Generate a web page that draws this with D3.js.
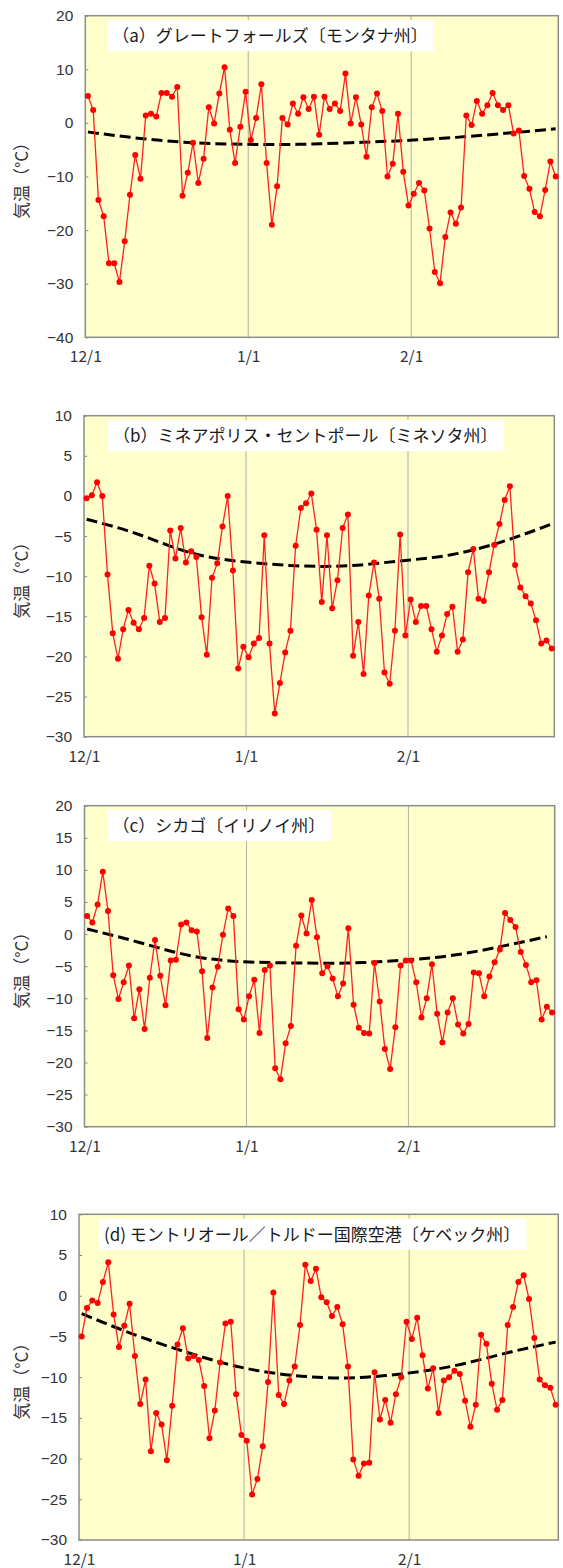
<!DOCTYPE html>
<html>
<head>
<meta charset="utf-8">
<script src="https://cdn.jsdelivr.net/npm/d3@7"></script>
<style>
  body { margin: 0; background: #fff; }
  text { font-family: "Noto Sans CJK JP", "Noto Sans", sans-serif; }
</style>
</head>
<body>
<svg id="chart" width="563" height="1568"></svg>
<script>
// Daily mean temperatures, Dec 1 .. Feb 28 (90 days)

const titles = [
    "（a）グレートフォールズ〔モンタナ州〕",
    "（b）ミネアポリス・セントポール〔ミネソタ州〕",
    "（c）シカゴ〔イリノイ州〕",
    "(d) モントリオール／トルドー国際空港〔ケベック州〕"
];

const dateLabels = ["12/1", "1/1", "2/1"];
const dateTickDays = [0, 31, 62];

const tempA = [5.0, 2.4, -14.4, -17.4, -26.2, -26.2, -29.7, -22.1, -13.4, -6.0,
    -10.4, 1.4, 1.7, 1.2, 5.6, 5.6, 4.9, 6.7, -13.6, -9.3,
    -3.7, -11.2, -6.7, 2.9, -0.1, 5.5, 10.4, -1.3, -7.5, -0.7,
    5.8, -3.2, 0.9, 7.2, -7.5, -19.0, -11.8, 0.9, -0.3, 3.6,
    1.7, 4.8, 2.6, 4.9, -2.2, 4.9, 2.6, 3.6, 2.2, 9.2,
    -0.1, 4.8, -0.3, -6.3, 2.9, 5.5, 2.2, -10.0, -7.6, 1.7,
    -9.1, -15.4, -13.2, -11.2, -12.6, -19.7, -27.8, -29.9, -21.3, -16.7,
    -18.8, -15.8, 1.4, -0.4, 4.1, 1.7, 3.3, 5.6, 3.3, 2.4,
    3.3, -2.0, -1.4, -9.9, -12.3, -16.6, -17.4, -12.5, -7.2, -10.0];

const tempB = [-0.3, 0.1, 1.7, 0.0, -9.8, -17.1, -20.3, -16.6, -14.2, -15.8,
    -16.6, -15.2, -8.7, -10.9, -15.7, -15.2, -4.3, -7.8, -4.0, -8.3,
    -6.9, -7.6, -15.1, -19.8, -10.2, -8.4, -3.8, 0.0, -9.3, -21.5,
    -18.8, -20.1, -18.4, -17.7, -4.9, -18.4, -27.1, -23.3, -19.5, -16.8,
    -6.2, -1.5, -0.9, 0.3, -4.2, -13.2, -4.9, -14.0, -10.5, -4.0,
    -2.3, -19.9, -15.7, -22.2, -12.4, -8.3, -12.8, -22.0, -23.4, -16.8,
    -4.8, -17.4, -12.9, -15.7, -13.7, -13.7, -16.6, -19.4, -17.4, -14.7,
    -13.8, -19.4, -17.9, -9.5, -6.6, -12.8, -13.1, -9.5, -6.1, -3.5,
    -0.5, 1.2, -8.6, -11.4, -12.5, -13.4, -15.5, -18.4, -18.0, -19.0];

const tempC = [2.8, 1.8, 4.6, 9.7, 3.6, -6.4, -10.1, -7.5, -4.9, -13.1,
    -8.6, -14.8, -6.8, -0.9, -6.5, -11.1, -4.1, -4.0, 1.5, 1.8,
    0.6, 0.4, -5.8, -16.2, -8.3, -5.1, -0.1, 4.0, 2.8, -11.7,
    -13.3, -9.7, -7.1, -15.4, -5.6, -4.9, -20.9, -22.6, -17.0, -14.3,
    -1.8, 2.9, 0.1, 5.3, -0.5, -6.1, -5.0, -6.9, -9.7, -7.7,
    0.9, -11.0, -14.6, -15.4, -15.5, -4.5, -10.5, -17.9, -21.0, -14.5,
    -4.9, -4.1, -4.1, -7.5, -13.0, -10.0, -4.7, -12.4, -16.9, -12.2,
    -10.0, -14.1, -15.5, -14.0, -6.0, -6.1, -9.7, -6.6, -4.4, -2.4,
    3.3, 2.2, 1.1, -2.8, -4.8, -7.5, -7.2, -13.3, -11.3, -12.2];

const tempD = [-5.0, -1.5, -0.6, -0.9, 1.7, 4.1, -2.3, -6.3, -3.7, -1.0,
    -7.4, -13.3, -10.3, -19.1, -14.4, -15.8, -20.2, -13.5, -6.0, -4.0,
    -7.7, -7.4, -7.9, -11.1, -17.5, -14.1, -8.2, -3.4, -3.2, -12.1,
    -17.1, -17.8, -24.4, -22.5, -18.5, -10.6, 0.4, -12.2, -13.3, -10.4,
    -8.7, -3.6, 3.8, 1.8, 3.3, -0.2, -0.8, -2.5, -1.4, -3.5,
    -8.7, -20.1, -22.1, -20.6, -20.5, -9.4, -15.2, -12.8, -15.6, -12.1,
    -10.0, -3.2, -5.3, -2.7, -7.3, -11.4, -8.9, -14.4, -10.4, -10.0,
    -9.2, -9.6, -12.9, -16.1, -13.4, -4.8, -5.9, -10.8, -14.0, -12.8,
    -3.6, -1.4, 1.7, 2.5, -0.4, -5.2, -10.3, -11.0, -11.3, -13.4];

// normal (climatology) curve, sampled every ten days
const normDays = [0, 10, 20, 30, 40, 50, 60, 70, 80, 89];
const normDaysC = [0, 10, 20, 30, 40, 50, 60, 70, 80, 88];
const normA = [-1.7, -2.9, -3.7, -4.0, -4.0, -3.7, -3.3, -2.7, -1.9, -1.1];
const normB = [-2.9, -4.8, -7.1, -8.2, -8.7, -8.7, -8.1, -7.3, -5.6, -3.5];
const normC = [0.8, -1.3, -3.4, -4.3, -4.5, -4.5, -4.1, -3.3, -1.8, -0.4];
const normD = [-2.2, -4.8, -7.0, -8.8, -9.8, -10.1, -9.6, -8.6, -7.0, -5.7];

// y axis ticks per panel
const ticksA = [-40, -30, -20, -10, 0, 10, 20];
const ticksB = [-30, -25, -20, -15, -10, -5, 0, 5, 10];
const ticksC = [-30, -25, -20, -15, -10, -5, 0, 5, 10, 15, 20];
const ticksD = [-30, -25, -20, -15, -10, -5, 0, 5, 10];

const svg = d3.select("#chart");

// panel frames (left, top, right, bottom)
const panels = [
    { title: titles[0], temps: tempA, nDays: normDays, norm: normA, ticks: ticksA, box: [85.3, 15.7, 558.3, 337.3], titleX: 22 },
    { title: titles[1], temps: tempB, nDays: normDays, norm: normB, ticks: ticksB, box: [84, 415.7, 554.3, 736.7], titleX: 24 },
    { title: titles[2], temps: tempC, nDays: normDaysC, norm: normC, ticks: ticksC, box: [84.5, 805.7, 554.7, 1126.7], titleX: 23 },
    { title: titles[3], temps: tempD, nDays: normDays, norm: normD, ticks: ticksD, box: [79, 1214.3, 558.3, 1540], titleX: 20 }
];

panels.forEach(function (p) {
    let [x0, y0, x1, y1] = p.box;

    let x = d3.scaleLinear().domain([0, 90]).range([x0, x1]);
    let y = d3.scaleLinear().domain(d3.extent(p.ticks)).range([y1, y0]);

    let g = svg.append("g");

    // plot background
    g.append("rect")
        .attr("x", x0).attr("y", y0)
        .attr("width", x1 - x0).attr("height", y1 - y0)
        .attr("fill", "#ffffcc");

    // month gridlines
    g.selectAll(".grid")
        .data(dateTickDays.slice(1))
        .enter()
        .append("line")
        .attr("x1", d => x(d)).attr("x2", d => x(d))
        .attr("y1", y0).attr("y2", y1)
        .attr("stroke", "#b0b0a0")
        .attr("stroke-width", 1);

    // y axis
    let yAxis = d3.axisLeft(y)
        .tickValues(p.ticks)
        .tickSize(-3)
        .tickPadding(12)
        .tickFormat(d => String(d).replace("-", "−"));
    let ya = g.append("g")
        .attr("transform", `translate(${x0},0)`)
        .call(yAxis);
    ya.select(".domain").remove();
    ya.selectAll("line").attr("stroke", "#888");
    ya.selectAll("text")
        .attr("fill", "#333")
        .style("font-family", "'Liberation Sans', Arial, sans-serif")
        .style("font-size", "15.5px");

    // x axis labels
    let xAxis = d3.axisBottom(x)
        .tickValues(dateTickDays)
        .tickSize(0)
        .tickPadding(14)
        .tickFormat((d, i) => dateLabels[i]);
    let xa = g.append("g")
        .attr("transform", `translate(0,${y1})`)
        .call(xAxis);
    xa.select(".domain").remove();
    xa.selectAll("text")
        .attr("fill", "#333")
        .style("font-size", "15.5px");

    // y axis title
    g.append("text")
        .attr("transform", `translate(28,${(y0 + y1) / 2}) rotate(-90)`)
        .attr("text-anchor", "middle")
        .attr("fill", "#333")
        .style("font-size", "17px")
        .text("気温（°C）");

    // plot frame
    g.append("rect")
        .attr("x", x0).attr("y", y0)
        .attr("width", x1 - x0).attr("height", y1 - y0)
        .attr("fill", "none")
        .attr("stroke", "#8c8c8c")
        .attr("stroke-width", 1.5);

    // title box
    let tg = g.append("g");
    let rect = tg.append("rect").attr("fill", "#fff");
    let tt = tg.append("text")
        .attr("x", x0 + p.titleX + 5)
        .attr("y", y0 + 26.5)
        .attr("fill", "#1a1a1a")
        .style("font-size", "17px")
        .text(p.title);
    let tw = tt.node().getComputedTextLength();
    rect.attr("x", x0 + p.titleX).attr("y", y0 + 4.5)
        .attr("width", tw + 11).attr("height", 31);

    // normal curve
    let normLine = d3.line()
        .x((d, i) => x(p.nDays[i] + 0.5))
        .y(d => y(d))
        .curve(d3.curveNatural);
    g.append("path")
        .datum(p.norm)
        .attr("d", normLine)
        .attr("fill", "none")
        .attr("stroke", "#000")
        .attr("stroke-width", 3)
        .attr("stroke-dasharray", "11,5");

    // daily temperature line
    let tempLine = d3.line()
        .x((d, i) => x(i + 0.5))
        .y(d => y(d));
    g.append("path")
        .datum(p.temps)
        .attr("d", tempLine)
        .attr("fill", "none")
        .attr("stroke", "#ff2020")
        .attr("stroke-width", 1.3);

    g.selectAll(".dot")
        .data(p.temps)
        .enter()
        .append("circle")
        .attr("cx", (d, i) => x(i + 0.5))
        .attr("cy", d => y(d))
        .attr("r", 3)
        .attr("fill", "#ff0000");
});
</script>
</body>
</html>
